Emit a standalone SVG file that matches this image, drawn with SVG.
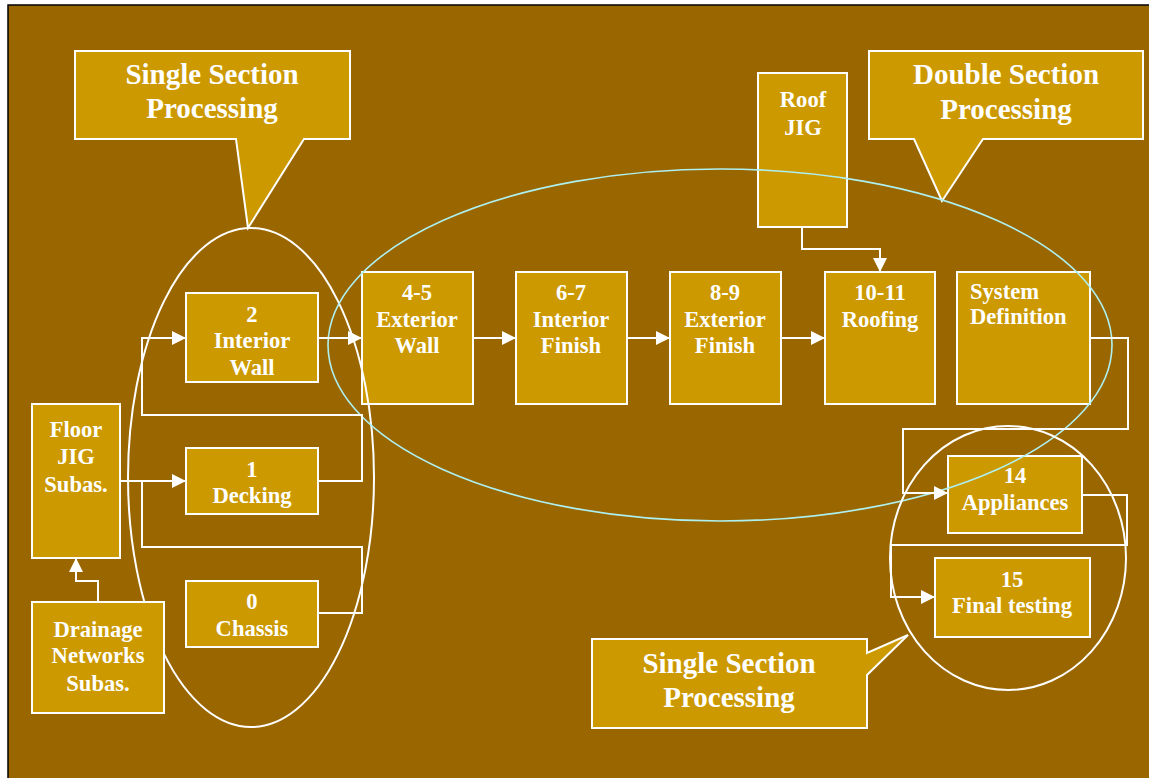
<svg xmlns="http://www.w3.org/2000/svg" width="1149" height="778" viewBox="0 0 1149 778">
<defs>
<style>
.bg{fill:#996600;stroke:#000;stroke-width:1.5}
.box{fill:#CC9900;stroke:#fff;stroke-width:2}
.t{font-family:"Liberation Serif","Times New Roman",serif;font-weight:bold;font-size:22.6px;fill:#fff;text-anchor:middle}
.tl{text-anchor:start}
.ct{font-family:"Liberation Serif","Times New Roman",serif;font-weight:bold;font-size:29px;fill:#fff;text-anchor:middle}
.c{fill:none;stroke:#fff;stroke-width:2}
.ew{fill:none;stroke:#fff;stroke-width:2}
.ec{fill:none;stroke:#aef0f0;stroke-width:1.6}
</style>
<marker id="ah" markerUnits="userSpaceOnUse" markerWidth="14" markerHeight="14" viewBox="0 0 14 14" refX="14" refY="7" orient="auto">
<path d="M0,0 L14,7 L0,14 z" fill="#fff"/>
</marker>
</defs>
<rect x="0" y="0" width="1149" height="778" fill="#fff"/>
<rect class="bg" x="8" y="5" width="1150" height="790"/>

<g id="callout-single-top">
<path class="box" d="M75,51 H350 V139 H304 L248,228 L236,139 H75 Z"/>
<text class="ct" x="212" y="84">Single Section</text>
<text class="ct" x="212" y="118">Processing</text>
</g>
<g id="callout-double">
<path class="box" d="M869,51 H1143 V139 H983 L942,201 L914,139 H869 Z"/>
<text class="ct" x="1006" y="84">Double Section</text>
<text class="ct" x="1006" y="119">Processing</text>
</g>
<g id="callout-single-bottom">
<path class="box" d="M592,639 H867 V653 L908,635 L867,675 V728 H592 Z"/>
<text class="ct" x="729" y="673">Single Section</text>
<text class="ct" x="729" y="707">Processing</text>
</g>

<g id="n-roofjig">
<rect class="box" x="758" y="73" width="89" height="154"/>
<text class="t" x="803" y="107">Roof</text>
<text class="t" x="803" y="135">JIG</text>
</g>
<g id="n-2">
<rect class="box" x="186" y="293" width="132" height="89"/>
<text class="t" x="252" y="322">2</text>
<text class="t" x="252" y="348">Interior</text>
<text class="t" x="252" y="375">Wall</text>
</g>
<g id="n-45">
<rect class="box" x="362" y="272" width="111" height="132"/>
<text class="t" x="417" y="300">4-5</text>
<text class="t" x="417" y="327">Exterior</text>
<text class="t" x="417" y="353">Wall</text>
</g>
<g id="n-67">
<rect class="box" x="516" y="272" width="111" height="132"/>
<text class="t" x="571" y="300">6-7</text>
<text class="t" x="571" y="327">Interior</text>
<text class="t" x="571" y="353">Finish</text>
</g>
<g id="n-89">
<rect class="box" x="670" y="272" width="111" height="132"/>
<text class="t" x="725" y="300">8-9</text>
<text class="t" x="725" y="327">Exterior</text>
<text class="t" x="725" y="353">Finish</text>
</g>
<g id="n-1011">
<rect class="box" x="825" y="272" width="110" height="132"/>
<text class="t" x="880" y="300">10-11</text>
<text class="t" x="880" y="327">Roofing</text>
</g>
<g id="n-sysdef">
<rect class="box" x="957" y="272" width="133" height="132"/>
<text class="t tl" x="970" y="299">System</text>
<text class="t tl" x="970" y="324">Definition</text>
</g>
<g id="n-floorjig">
<rect class="box" x="32" y="404" width="88" height="154"/>
<text class="t" x="76" y="437">Floor</text>
<text class="t" x="76" y="464">JIG</text>
<text class="t" x="76" y="492">Subas.</text>
</g>
<g id="n-1">
<rect class="box" x="186" y="448" width="132" height="66"/>
<text class="t" x="252" y="477">1</text>
<text class="t" x="252" y="503">Decking</text>
</g>
<g id="n-0">
<rect class="box" x="186" y="581" width="132" height="66"/>
<text class="t" x="252" y="609">0</text>
<text class="t" x="252" y="636">Chassis</text>
</g>
<g id="n-14">
<rect class="box" x="948" y="456" width="134" height="77"/>
<text class="t" x="1015" y="483">14</text>
<text class="t" x="1015" y="510">Appliances</text>
</g>
<g id="n-15">
<rect class="box" x="935" y="558" width="155" height="79"/>
<text class="t" x="1012" y="587">15</text>
<text class="t" x="1012" y="613">Final testing</text>
</g>

<g id="groups">
<ellipse class="ew" cx="251" cy="477.5" rx="123" ry="249.5"/>
<ellipse class="ec" cx="720" cy="345" rx="392" ry="176"/>
<ellipse class="ew" cx="1008" cy="558" rx="118" ry="132"/>
</g>

<g id="n-drainage">
<rect class="box" x="32" y="602" width="132" height="111"/>
<text class="t" x="98" y="637">Drainage</text>
<text class="t" x="98" y="663">Networks</text>
<text class="t" x="98" y="691">Subas.</text>
</g>

<g id="connectors">
<path class="c" d="M318,338 H362" marker-end="url(#ah)"/>
<path class="c" d="M473,338 H516" marker-end="url(#ah)"/>
<path class="c" d="M627,338 H670" marker-end="url(#ah)"/>
<path class="c" d="M781,338 H825" marker-end="url(#ah)"/>
<path class="c" d="M802,227 V249 H880 V272" marker-end="url(#ah)"/>
<path class="c" d="M318,481 H362 V415 H142 V338 H186" marker-end="url(#ah)"/>
<path class="c" d="M120,481 H186" marker-end="url(#ah)"/>
<path class="c" d="M318,613 H362 V547 H142 V481"/>
<path class="c" d="M98,602 V581 H76 V558" marker-end="url(#ah)"/>
<path class="c" d="M1090,338 H1128 V429 H903 V493 H948" marker-end="url(#ah)"/>
<path class="c" d="M1082,495 H1127 V545 H891 V597 H935" marker-end="url(#ah)"/>
</g>
</svg>
